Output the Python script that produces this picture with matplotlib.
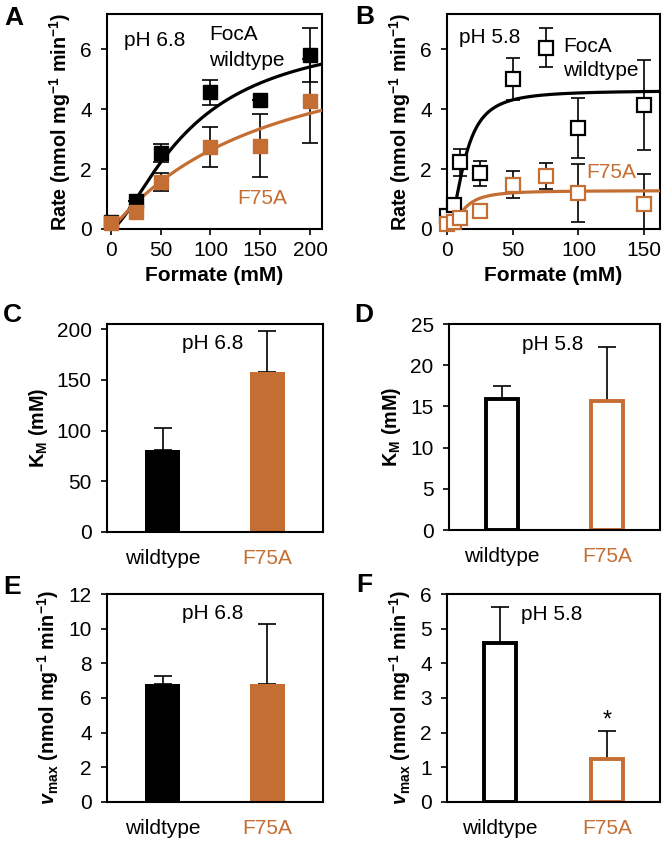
import numpy as np
import matplotlib
matplotlib.use("Agg")
import matplotlib.pyplot as plt

plt.rcParams['font.family'] = ['Liberation Sans', 'DejaVu Sans']
plt.rcParams['mathtext.fontset'] = 'custom'
plt.rcParams['mathtext.rm'] = 'Liberation Sans'
plt.rcParams['mathtext.bf'] = 'Liberation Sans:bold'
plt.rcParams['mathtext.it'] = 'Liberation Sans:italic'
plt.rcParams['mathtext.bfit'] = 'Liberation Sans:italic:bold'

black = 'black'
orange = '#C56E33'

# panel A, pH 6.8
conc_a = [0, 25, 50, 100, 150, 200]
wt_a = [0.24, 0.93, 2.52, 4.56, 4.3, 5.8]
wt_a_err = [0, 0, 0.3, 0.42, 0, 0.91]
mut_a = [0.19, 0.55, 1.57, 2.74, 2.78, 4.27]
mut_a_err = [0, 0, 0.31, 0.67, 1.04, 1.41]

# panel B, pH 5.8
conc_b = [0, 5, 10, 25, 50, 75, 100, 150]
wt_b = [0.42, 0.8, 2.22, 1.86, 5.0, 6.04, 3.38, 4.13]
wt_b_err = [0, 0, 0.45, 0.41, 0.69, 0.65, 1.0, 1.5]
mut_b = [0.17, 0.24, 0.35, 0.61, 1.47, 1.77, 1.21, 0.83]
mut_b_err = [0, 0, 0, 0, 0.45, 0.42, 0.97, 1.0]

# fitted curves (Vmax, K, hill n)
fit_wt_a = (6.8, 81, 1.5)
fit_mut_a = (6.85, 157, 1.05)
fit_wt_b = (4.62, 13.5, 2.0)
fit_mut_b = (1.28, 12.5, 2.0)

strains = ['wildtype', 'F75A']
km_68 = [81, 158]
km_68_err = [21.5, 40]
km_58 = [15.85, 15.6]
km_58_err = [1.6, 6.55]
vmax_68 = [6.78, 6.83]
vmax_68_err = [0.47, 3.42]
vmax_58 = [4.58, 1.25]
vmax_58_err = [1.04, 0.8]

FS = 15
YFS = 14.2
rate_label = r'Rate (nmol mg$^{\mathbf{-1}}$ min$^{\mathbf{-1}}$)'
vmax_label = r'$\mathbfit{v}_{\mathbf{max}}$ (nmol mg$^{\mathbf{-1}}$ min$^{\mathbf{-1}}$)'
km_label = r'K$_{\mathbf{M}}$ (mM)'


def hill(x, p):
    v, k, n = p
    return v * x**n / (k**n + x**n)


def style(ax):
    for s in ax.spines.values():
        s.set_linewidth(1.5)
    ax.tick_params(labelsize=FS, width=1.2, length=4, direction='out')
    ax.tick_params(axis='y', pad=7)


fig = plt.figure(figsize=(6.64, 8.44), dpi=100)

# ---- A ----
ax = fig.add_axes([0.1611, 0.7287, 0.3238, 0.2547])
style(ax)
ax.errorbar(conc_a, wt_a, yerr=wt_a_err, fmt='none', ecolor=black, elinewidth=1.2, capsize=5.5, capthick=1.2, zorder=2)
ax.errorbar(conc_a, mut_a, yerr=mut_a_err, fmt='none', ecolor=black, elinewidth=1.2, capsize=5.5, capthick=1.2, zorder=2)
xx = np.linspace(0.5, 212, 300)
ax.plot(xx, hill(xx, fit_wt_a), color=black, lw=2.3, zorder=3)
ax.plot(xx, hill(xx, fit_mut_a), color=orange, lw=2.3, zorder=3)
ax.plot(conc_a, wt_a, 's', color=black, ms=9.5, zorder=4, clip_on=False)
ax.plot(conc_a, mut_a, 's', color=orange, ms=9.5, zorder=5, clip_on=False)
ax.set_xlim(-4, 212)
ax.set_ylim(0, 7.17)
ax.set_xticks([0, 50, 100, 150, 200])
ax.set_yticks([0, 2, 4, 6])
ax.tick_params(axis='x', pad=5)
ax.set_xlabel('Formate (mM)', fontsize=FS, fontweight='bold', labelpad=4)
ax.set_ylabel(rate_label, fontsize=YFS, fontweight='bold', labelpad=5)
ax.text(44, 6.3, 'pH 6.8', fontsize=FS, ha='center', va='center')
ax.text(99, 6.47, 'FocA', fontsize=FS, ha='left', va='center')
ax.text(99, 5.63, 'wildtype', fontsize=FS, ha='left', va='center')
ax.text(127, 1.03, 'F75A', fontsize=FS, ha='left', va='center', color=orange)

# ---- B ----
ax = fig.add_axes([0.6732, 0.7287, 0.3208, 0.2547])
style(ax)
ax.errorbar(conc_b, wt_b, yerr=wt_b_err, fmt='none', ecolor=black, elinewidth=1.2, capsize=5, capthick=1.2, zorder=2)
ax.errorbar(conc_b, mut_b, yerr=mut_b_err, fmt='none', ecolor=black, elinewidth=1.2, capsize=5, capthick=1.2, zorder=2)
xx = np.linspace(0, 162, 300)
ax.plot(xx, hill(xx, fit_wt_b), color=black, lw=2.3, zorder=3)
ax.plot(xx, hill(xx, fit_mut_b), color=orange, lw=2.3, zorder=3)
ax.plot(conc_b, wt_b, 's', mfc='white', mec=black, mew=1.6, ms=9.5, zorder=4, clip_on=False)
ax.plot(conc_b, mut_b, 's', mfc='white', mec=orange, mew=1.6, ms=9.5, zorder=5, clip_on=False)
ax.set_xlim(0, 162)
ax.set_ylim(0, 7.17)
ax.set_xticks([0, 50, 100, 150])
ax.set_yticks([0, 2, 4, 6])
ax.tick_params(axis='x', pad=5)
ax.set_xlabel('Formate (mM)', fontsize=FS, fontweight='bold', labelpad=4)
ax.set_ylabel(rate_label, fontsize=YFS, fontweight='bold', labelpad=5)
ax.text(32.6, 6.37, 'pH 5.8', fontsize=FS, ha='center', va='center')
ax.text(88.5, 6.07, 'FocA', fontsize=FS, ha='left', va='center')
ax.text(88.5, 5.3, 'wildtype', fontsize=FS, ha='left', va='center')
ax.text(106, 1.9, 'F75A', fontsize=FS, ha='left', va='center', color=orange)


def bars(rect, vals, errs, ylim, yticks, ylabel, ph, ph_y, filled, xlim):
    ax = fig.add_axes(rect)
    style(ax)
    x = np.arange(len(vals))
    cols = [black, orange]
    for i in x:
        if filled:
            ax.bar(i, vals[i], width=0.33, color=cols[i], zorder=2)
        else:
            ax.bar(i, vals[i], width=0.3, facecolor='white', edgecolor=cols[i], linewidth=2.8, zorder=2)
        ax.errorbar(i, vals[i], yerr=[[0], [errs[i]]], fmt='none', ecolor=black, elinewidth=1.2,
                    capsize=6.5, capthick=1.2, zorder=1)
    ax.set_xlim(*xlim)
    ax.set_ylim(*ylim)
    ax.set_yticks(yticks)
    ax.set_xticks(x)
    ax.set_xticklabels(strains)
    ax.get_xticklabels()[1].set_color(orange)
    ax.tick_params(axis='x', length=0, pad=12)
    ax.set_ylabel(ylabel, fontsize=YFS, fontweight='bold', labelpad=5)
    ax.text(0.48, ph_y, ph, fontsize=FS, ha='center', va='center')
    return ax


bars([0.1611, 0.3697, 0.3253, 0.2464], km_68, km_68_err, (0, 205), [0, 50, 100, 150, 200],
     km_label, 'pH 6.8', 186, True, (-0.53, 1.53))
bars([0.6762, 0.3720, 0.3178, 0.2441], km_58, km_58_err, (0, 25), [0, 5, 10, 15, 20, 25],
     km_label, 'pH 5.8', 22.5, False, (-0.5, 1.5))
bars([0.1611, 0.0498, 0.3253, 0.2464], vmax_68, vmax_68_err, (0, 12), [0, 2, 4, 6, 8, 10, 12],
     vmax_label, 'pH 6.8', 10.9, True, (-0.53, 1.53))
axf = bars([0.6732, 0.0498, 0.3208, 0.2464], vmax_58, vmax_58_err, (0, 6), [0, 1, 2, 3, 4, 5, 6],
           vmax_label, 'pH 5.8', 5.4, False, (-0.5, 1.5))
axf.text(1, 2.35, '*', fontsize=FS + 2, ha='center', va='center')

# panel letters
for lab, x, y in [('A', 14, 18), ('B', 365, 17), ('C', 12, 315), ('D', 364, 315), ('E', 12, 587), ('F', 364, 585)]:
    fig.text(x / 664, 1 - y / 844, lab, fontsize=19, fontweight='bold', ha='center', va='center')

fig.savefig('out.png', dpi=100)
